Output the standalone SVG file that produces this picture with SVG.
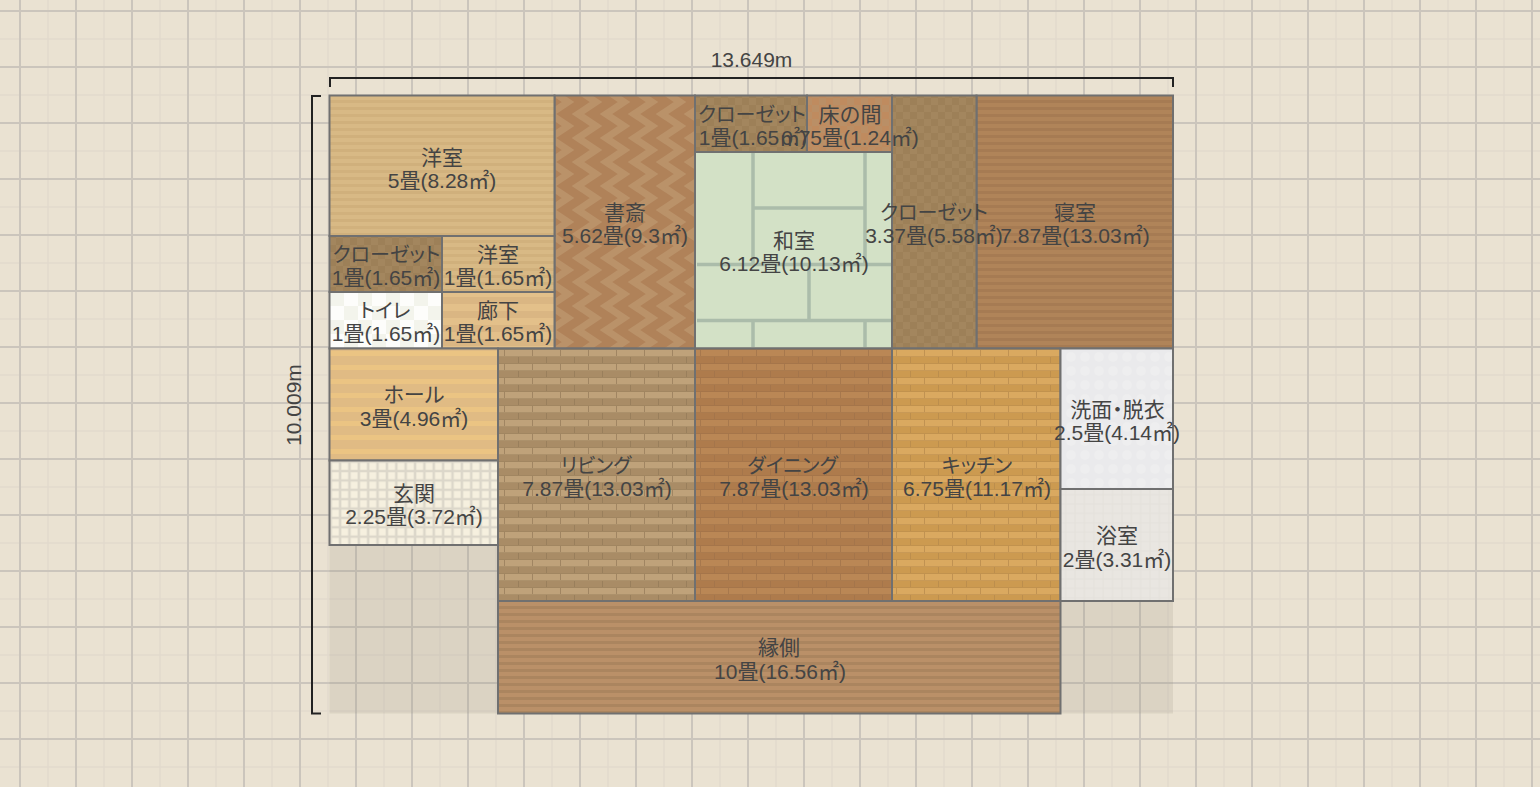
<svg xmlns="http://www.w3.org/2000/svg" width="1540" height="787" viewBox="0 0 1540 787">
<style>
.r{stroke:#707070;stroke-width:2}
text{font-family:"Liberation Sans","Noto Sans CJK JP",sans-serif;font-size:21px;fill:#444;text-anchor:middle}
.k{font-feature-settings:"palt";font-size:20px}
.p{font-feature-settings:"palt"}
.dim{stroke:#222;stroke-width:2;fill:none}
.tat{stroke:#abbcaa;stroke-width:3.500;fill:none}
</style>
<defs>
<pattern id="grid" width="56" height="56" patternUnits="userSpaceOnUse" x="6" y="-3">
<path d="M42 0V56M0 42H56" stroke="#e2dacd" stroke-width="1.500" fill="none"/>
<path d="M14 0V56M0 14H56" stroke="#cbc5bc" stroke-width="2" fill="none"/>
</pattern>
<pattern id="woodA" width="14" height="14" patternUnits="userSpaceOnUse" y="96"><rect width="14" height="14" fill="#d8b985"/><rect y="4" width="14" height="3" fill="#d1b17d"/><rect y="11" width="14" height="3" fill="#d0b07c"/></pattern>
<pattern id="woodB" width="14" height="14" patternUnits="userSpaceOnUse" y="96"><rect width="14" height="14" fill="#e3c08a"/><rect y="5" width="14" height="7" fill="#dab683"/></pattern>
<pattern id="hall" width="14" height="14" patternUnits="userSpaceOnUse" y="350"><rect width="14" height="14" fill="#e0bb84"/><rect y="1" width="14" height="5" fill="#ebc483"/></pattern>
<pattern id="deck" width="7" height="7" patternUnits="userSpaceOnUse" y="602"><rect width="7" height="7" fill="#ba9068"/><rect y="4" width="7" height="3" fill="#ab855f"/></pattern>
<pattern id="bed" width="7" height="7" patternUnits="userSpaceOnUse" y="96"><rect width="7" height="7" fill="#b08459"/><rect y="4" width="7" height="3" fill="#a67b53"/></pattern>
<pattern id="chev" width="28" height="24" patternUnits="userSpaceOnUse" x="554" y="96"><rect width="28" height="24" fill="#b08259"/><path d="M-32 -6L-14 6L-32 18L-14 30M-4 -6L14 6L-4 18L14 30M24 -6L42 6L24 18L42 30" fill="none" stroke="#ba9269" stroke-width="7"/></pattern>
<pattern id="chk" width="14" height="14" patternUnits="userSpaceOnUse"><rect width="14" height="14" fill="#a3865e"/><rect width="7" height="7" fill="#9d8058"/><rect x="7" y="7" width="7" height="7" fill="#9d8058"/></pattern>
<pattern id="chkT" width="14" height="14" patternUnits="userSpaceOnUse"><rect width="14" height="14" fill="#ba8f66"/><rect width="7" height="7" fill="#bf8b5f"/><rect x="7" y="7" width="7" height="7" fill="#bf8b5f"/></pattern>
<pattern id="toi" width="28" height="28" patternUnits="userSpaceOnUse" x="330" y="292"><rect width="28" height="28" fill="#fdfdfb"/><rect width="14" height="14" fill="#f3f4ec"/><rect x="14" y="14" width="14" height="14" fill="#f3f4ec"/></pattern>
<pattern id="brL" width="28" height="14" patternUnits="userSpaceOnUse" y="350"><rect width="28" height="7" fill="#bfa27a"/><rect y="7" width="28" height="7" fill="#a98c66"/><path d="M0 6.500H28M0 13.500H28" stroke="#9a7f5c" stroke-width="1" stroke-opacity=".5"/><path d="M14.500 7V13M.5 0V6" stroke="#937a59" stroke-width="1" stroke-opacity=".7"/></pattern>
<pattern id="brD" width="28" height="14" patternUnits="userSpaceOnUse" y="350"><rect width="28" height="7" fill="#ba8755"/><rect y="7" width="28" height="7" fill="#ae7b4c"/><path d="M0 6.500H28M0 13.500H28" stroke="#9c6f47" stroke-width="1" stroke-opacity=".5"/><path d="M14.500 7V13M.5 0V6" stroke="#a0724a" stroke-width="1" stroke-opacity=".7"/></pattern>
<pattern id="brK" width="28" height="14" patternUnits="userSpaceOnUse" y="350"><rect width="28" height="7" fill="#daa960"/><rect y="7" width="28" height="7" fill="#cc9a50"/><path d="M0 6.500H28M0 13.500H28" stroke="#b5894b" stroke-width="1" stroke-opacity=".5"/><path d="M14.500 7V13M.5 0V6" stroke="#b5894b" stroke-width="1" stroke-opacity=".7"/></pattern>
<pattern id="gen" width="9.370" height="9.370" patternUnits="userSpaceOnUse" x="326" y="457"><rect width="9.370" height="9.370" fill="#f6f0df"/><path d="M4.700 0V9.370M0 4.700H9.370" stroke="#dcd7ca" stroke-width="2.500" fill="none"/></pattern>
<pattern id="wash" width="14" height="14" patternUnits="userSpaceOnUse" y="350"><rect width="14" height="14" fill="#eaeaec"/><circle cx="7" cy="7" r="5" fill="#eeeeef"/></pattern>
<pattern id="bath" width="9.370" height="9.370" patternUnits="userSpaceOnUse" x="1061" y="490"><rect width="9.370" height="9.370" fill="#e9e6e1"/><path d="M4.700 0V9.370M0 4.700H9.370" stroke="#e4e1db" stroke-width="1" fill="none"/></pattern>
</defs>
<rect width="1540" height="787" fill="#eae2d2"/>
<rect width="1540" height="787" fill="url(#grid)"/>
<rect id="shade" x="329.500" y="545" width="843.500" height="168.500" fill="#8f8674" fill-opacity=".16"/>

<g id="connectors">
<path class="dim" d="M330 87V78H1173V87"/>
<path class="dim" d="M321 96H312V713.500H321"/>
<text x="751.500" y="67">13.649m</text>
<text transform="translate(300.500,405) rotate(-90)">10.009m</text>
</g>

<g id="room-bed"><rect class="r" x="976.500" y="95.500" width="196.500" height="253" fill="url(#bed)"/><text x="1075" y="219.500">寝室</text><text x="1075" y="243">7.87畳(13.03㎡)</text></g>
<g id="room-washitsu"><rect class="r" x="695" y="152" width="197" height="196.500" fill="#d3e1c6"/>
<path class="tat" d="M753 153V264M865 153V264M753 208H865M697 264.500H891M809 264.500V320M697 320.500H891M753 320.500V347M865 320.500V347"/>
<text x="794" y="247.500">和室</text><text x="794" y="271">6.12畳(10.13㎡)</text></g>
<g id="room-closet3"><rect class="r" x="892" y="95.500" width="84.500" height="253" fill="url(#chk)"/><text class="k" x="934" y="219.500">クローゼット</text><text x="934" y="243">3.37畳(5.58㎡)</text></g>
<g id="room-closet2"><rect class="r" x="695" y="95.500" width="112" height="56.500" fill="url(#chk)"/><text class="k" x="752" y="121.500">クローゼット</text><text x="753" y="145">1畳(1.65㎡)</text></g>
<g id="room-tokonoma"><rect class="r" x="807" y="95.500" width="85" height="56.500" fill="url(#chkT)"/><text x="850" y="121.500">床の間</text><text x="850" y="145">0.75畳(1.24㎡)</text></g>
<g id="room-study"><rect class="r" x="554.500" y="95.500" width="140.500" height="253" fill="url(#chev)"/><text x="625" y="219.500">書斎</text><text x="625" y="243">5.62畳(9.3㎡)</text></g>
<g id="room-western1"><rect class="r" x="329.500" y="95.500" width="225" height="140.500" fill="url(#woodA)"/><text x="442" y="164.500">洋室</text><text x="442" y="188">5畳(8.28㎡)</text></g>
<g id="room-closet1"><rect class="r" x="329.500" y="236" width="112.500" height="56" fill="url(#chk)"/><text class="k" x="386.500" y="261.500">クローゼット</text><text x="386" y="285">1畳(1.65㎡)</text></g>
<g id="room-western2"><rect class="r" x="442" y="236" width="112.500" height="56" fill="url(#woodA)"/><text x="498" y="261.500">洋室</text><text x="498" y="285">1畳(1.65㎡)</text></g>
<g id="room-toilet"><rect class="r" x="329.500" y="292" width="112.500" height="56.500" fill="url(#toi)"/><text class="k" x="385" y="317.500">トイレ</text><text x="386" y="341">1畳(1.65㎡)</text></g>
<g id="room-corridor"><rect class="r" x="442" y="292" width="112.500" height="56.500" fill="url(#woodB)"/><text x="498" y="317.500">廊下</text><text x="498" y="341">1畳(1.65㎡)</text></g>
<g id="room-hall"><rect class="r" x="329.500" y="348.500" width="168.500" height="112" fill="url(#hall)"/><text class="p" x="414" y="401.500">ホール</text><text x="414" y="426">3畳(4.96㎡)</text></g>
<g id="room-entrance"><rect class="r" x="329.500" y="460.500" width="168.500" height="84.500" fill="url(#gen)"/><text x="414" y="500.500">玄関</text><text x="414" y="524">2.25畳(3.72㎡)</text></g>
<g id="room-living"><rect class="r" x="498" y="348.500" width="197" height="252.500" fill="url(#brL)"/><text class="k" x="596" y="472.500">リビング</text><text x="597" y="496">7.87畳(13.03㎡)</text></g>
<g id="room-dining"><rect class="r" x="695" y="348.500" width="197" height="252.500" fill="url(#brD)"/><text class="k" x="792.500" y="472.500">ダイニング</text><text x="794" y="496">7.87畳(13.03㎡)</text></g>
<g id="room-kitchen"><rect class="r" x="892" y="348.500" width="168.500" height="252.500" fill="url(#brK)"/><text class="k" x="977" y="472.500">キッチン</text><text x="977" y="496">6.75畳(11.17㎡)</text></g>
<g id="room-wash"><rect class="r" x="1060.500" y="348.500" width="112.500" height="140.500" fill="url(#wash)"/><text class="p" x="1117.500" y="416.500">洗面・脱衣</text><text x="1117" y="440">2.5畳(4.14㎡)</text></g>
<g id="room-bath"><rect class="r" x="1060.500" y="489" width="112.500" height="112" fill="url(#bath)"/><text x="1117" y="542.500">浴室</text><text x="1117" y="567">2畳(3.31㎡)</text></g>
<g id="room-engawa"><rect class="r" x="498" y="601" width="562.500" height="112.500" fill="url(#deck)"/><text x="779" y="654.500">縁側</text><text x="780" y="679">10畳(16.56㎡)</text></g>
</svg>
